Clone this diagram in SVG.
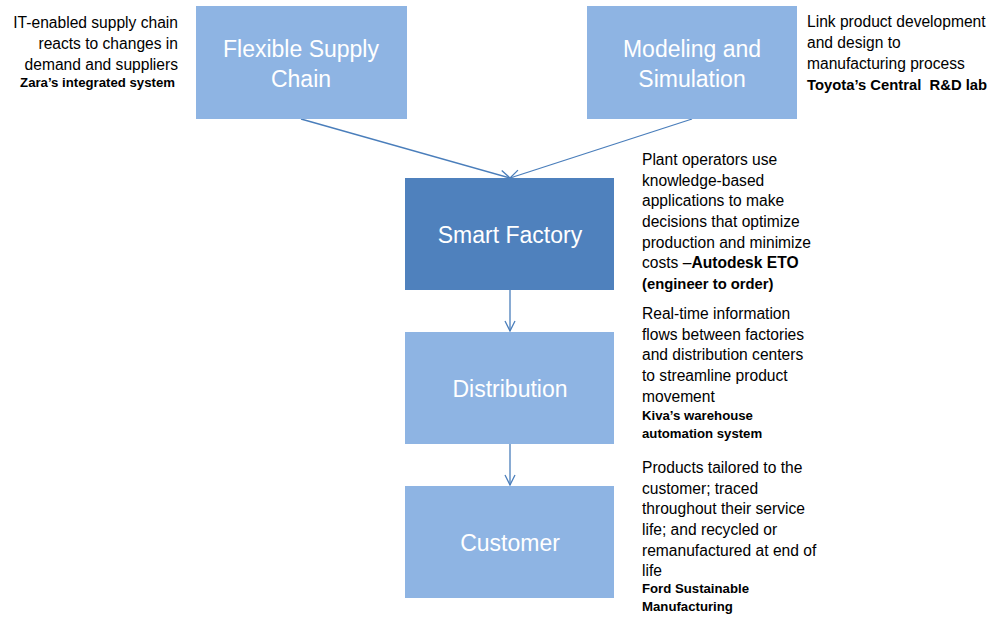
<svg xmlns="http://www.w3.org/2000/svg" width="995" height="618" viewBox="0 0 995 618">
<defs>
<style>
.box-l{fill:#8EB4E3;}
.box-d{fill:#4F81BD;}
.lbl{font-family:"Liberation Sans",Arial,sans-serif;font-size:23px;fill:#FFFFFF;text-anchor:middle;}
.t{font-family:"Liberation Sans",Arial,sans-serif;font-size:15.6px;fill:#000000;}
.b{font-family:"Liberation Sans",Arial,sans-serif;font-size:13.2px;font-weight:bold;fill:#000000;}
.bb{font-family:"Liberation Sans",Arial,sans-serif;font-size:14.8px;font-weight:bold;fill:#000000;}
.c{stroke:#4A7EBB;stroke-width:1.3;fill:none;}
</style>
<marker id="arr" viewBox="0 0 12 12" refX="11" refY="6" markerWidth="12" markerHeight="12" markerUnits="userSpaceOnUse" orient="auto">
<path d="M1,1 L11,6 L1,11" fill="none" stroke="#4A7EBB" stroke-width="1.3"/>
</marker>
</defs>
<rect width="995" height="618" fill="#FFFFFF"/>
<g id="connectors">
<line class="c" x1="301" y1="119" x2="510" y2="178" marker-end="url(#arr)"/>
<line class="c" x1="692" y1="119" x2="510" y2="178" marker-end="url(#arr)"/>
<line class="c" x1="510" y1="290" x2="510" y2="331" marker-end="url(#arr)"/>
<line class="c" x1="510" y1="444" x2="510" y2="485" marker-end="url(#arr)"/>
</g>
<g id="flexible-supply-chain">
<rect class="box-l" x="196" y="6" width="211" height="113"/>
<text class="lbl" x="301" y="57">Flexible Supply</text>
<text class="lbl" x="301" y="87">Chain</text>
</g>
<g id="modeling-simulation">
<rect class="box-l" x="587" y="6" width="210" height="113"/>
<text class="lbl" x="692" y="57">Modeling and</text>
<text class="lbl" x="692" y="87">Simulation</text>
</g>
<g id="smart-factory">
<rect class="box-d" x="405" y="178" width="209" height="112"/>
<text class="lbl" x="510" y="243">Smart Factory</text>
</g>
<g id="distribution">
<rect class="box-l" x="405" y="332" width="209" height="112"/>
<text class="lbl" x="510" y="397">Distribution</text>
</g>
<g id="customer">
<rect class="box-l" x="405" y="486" width="209" height="112"/>
<text class="lbl" x="510" y="551">Customer</text>
</g>
<g id="note-flexible" text-anchor="end">
<text class="t" x="178" y="28">IT-enabled supply chain</text>
<text class="t" x="178" y="49">reacts to changes in</text>
<text class="t" x="178" y="70">demand and suppliers</text>
<text class="b" x="175" y="87">Zara’s integrated system</text>
</g>
<g id="note-modeling">
<text class="t" x="807" y="27">Link product development</text>
<text class="t" x="807" y="48">and design to</text>
<text class="t" x="807" y="69">manufacturing process</text>
<text class="bb" x="807" y="90" xml:space="preserve">Toyota’s Central  R&amp;D lab</text>
</g>
<g id="note-smart-factory">
<text class="t" x="642" y="165">Plant operators use</text>
<text class="t" x="642" y="186">knowledge-based</text>
<text class="t" x="642" y="206">applications to make</text>
<text class="t" x="642" y="227">decisions that optimize</text>
<text class="t" x="642" y="248">production and minimize</text>
<text class="t" x="642" y="268">costs –<tspan font-weight="bold">Autodesk ETO</tspan></text>
<text class="bb" x="642" y="289">(engineer to order)</text>
</g>
<g id="note-distribution">
<text class="t" x="642" y="319">Real-time information</text>
<text class="t" x="642" y="340">flows between factories</text>
<text class="t" x="642" y="360">and distribution centers</text>
<text class="t" x="642" y="381">to streamline product</text>
<text class="t" x="642" y="402">movement</text>
<text class="b" x="642" y="420">Kiva’s warehouse</text>
<text class="b" x="642" y="438">automation system</text>
</g>
<g id="note-customer">
<text class="t" x="642" y="473">Products tailored to the</text>
<text class="t" x="642" y="494">customer; traced</text>
<text class="t" x="642" y="514">throughout their service</text>
<text class="t" x="642" y="535">life; and recycled or</text>
<text class="t" x="642" y="556">remanufactured at end of</text>
<text class="t" x="642" y="576">life</text>
<text class="b" x="642" y="593">Ford Sustainable</text>
<text class="b" x="642" y="611">Manufacturing</text>
</g>
</svg>
